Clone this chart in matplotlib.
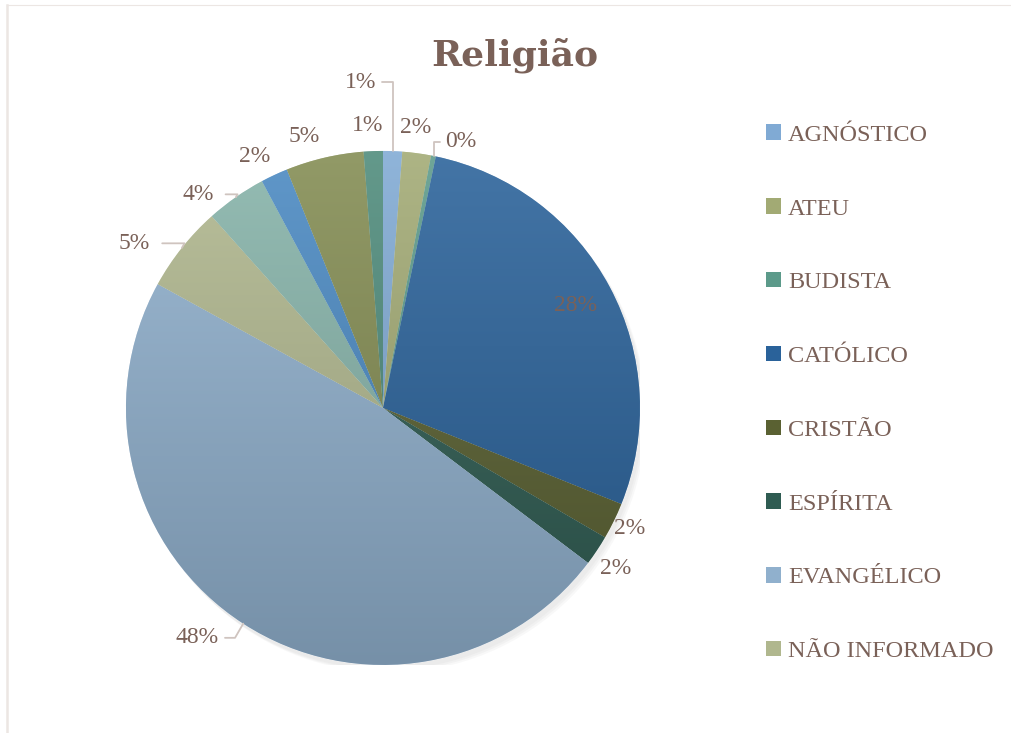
import numpy as np
import matplotlib.pyplot as plt
from matplotlib.patches import Patch, Circle
from matplotlib.lines import Line2D
from matplotlib.colors import to_rgb, LinearSegmentedColormap

# dados (percentuais, sentido horário a partir do topo)
categorias = ['AGNÓSTICO', 'ATEU', 'BUDISTA', 'CATÓLICO', 'CRISTÃO', 'ESPÍRITA',
              'EVANGÉLICO', 'NÃO INFORMADO', 'OUTRO 1', 'OUTRO 2', 'OUTRO 3', 'OUTRO 4']
valores = [1.2, 1.8, 0.3, 27.8, 2.3, 1.9, 47.7, 5.4, 3.8, 1.7, 4.9, 1.2]
rotulos = ['1%', '2%', '0%', '28%', '2%', '2%', '48%', '5%', '4%', '2%', '5%', '1%']
n_legenda = 8  # a legenda do original só mostra as 8 primeiras

cores = ['#80aad4', '#a2aa74', '#5c9a8a', '#2a629a', '#5a6132', '#2f5c52',
         '#90b0cd', '#b0b78e', '#86b3a9', '#4a89c2', '#838c52', '#4e8b7b']

# posição dos rótulos: raio e ajuste de ângulo (graus)
rot_raio = [1.27, 1.10, 1.08, 0.85, 1.07, 1.10, 1.15, 1.16, 1.10, 1.10, 1.10, 1.10]
rot_dang = [6, 1, -5, 0, 0, -1, -6, 5, 6, 2, 3, 1]
com_linha = [True, False, True, False, False, False, True, True, True, False, False, False]

marrom = '#7a6158'
linha_cor = '#cfc4bf'

fig = plt.figure(figsize=(10.11, 7.33), dpi=100)
ax = fig.add_axes([0.1246, 0.0928, 0.5084, 0.7013])
ax.axis('off')

# sombra leve
for k in range(3):
    ax.add_patch(Circle((0.012 + 0.006 * k, -0.018 - 0.006 * k), 1.0,
                        color='#808080', alpha=0.05, zorder=0, lw=0))

wedges, _ = ax.pie(valores, colors=cores, startangle=90, counterclock=False,
                   radius=1.0, wedgeprops=dict(edgecolor='white', linewidth=0.3))

# gradiente vertical em cada fatia
grad = np.linspace(0, 1, 256).reshape(-1, 1)
for w, c in zip(wedges, cores):
    rgb = np.array(to_rgb(c))
    claro = rgb + (1 - rgb) * 0.12
    escuro = rgb * 0.82
    cmap = LinearSegmentedColormap.from_list('g', [escuro, claro])
    im = ax.imshow(grad, cmap=cmap, extent=[-1, 1, -1, 1], origin='lower',
                   aspect='auto', zorder=w.get_zorder() + 0.1)
    im.set_clip_path(w)

# rótulos de percentual
for w, txt, r, da, ln in zip(wedges, rotulos, rot_raio, rot_dang, com_linha):
    meio = np.deg2rad((w.theta1 + w.theta2) / 2)
    ang = meio + np.deg2rad(da)
    x, y = r * np.cos(ang), r * np.sin(ang)
    ax.text(x, y, txt, ha='center', va='center', fontsize=17,
            family='Liberation Serif', color=marrom, zorder=5)
    if ln:
        xe, ye = np.cos(meio), np.sin(meio)
        if y > 1.0:
            ax.annotate('', xy=(xe, ye), xytext=(x, y),
                        arrowprops=dict(arrowstyle='-', color=linha_cor, lw=1.3,
                                        shrinkA=15, shrinkB=0,
                                        connectionstyle='angle,angleA=0,angleB=90,rad=0'))
        else:
            ax.annotate('', xy=(xe, ye), xytext=(x, y),
                        arrowprops=dict(arrowstyle='-', color=linha_cor, lw=1.3,
                                        shrinkA=20, shrinkB=0,
                                        connectionstyle='angle,angleA=0,angleB=60,rad=0'))

ax.set_xlim(-1, 1)
ax.set_ylim(-1, 1)
ax.set_aspect('equal')

fig.text(0.509, 0.924, 'Religião', ha='center', va='center', fontsize=26,
         fontweight='bold', family='DejaVu Serif', color=marrom)

handles = [Patch(facecolor=cores[i], edgecolor='none') for i in range(n_legenda)]
fig.legend(handles, categorias[:n_legenda], loc='upper left',
           bbox_to_anchor=(0.736, 0.86), frameon=False,
           prop={'family': 'Liberation Serif', 'size': 17.5},
           labelcolor=marrom, labelspacing=2.16, handlelength=0.6,
           handleheight=0.6, handletextpad=0.3)

# moldura clara
fig.add_artist(Line2D([0.0065, 0.0065], [0, 0.993], transform=fig.transFigure,
                      color='#ece6e3', lw=1.8))
fig.add_artist(Line2D([0.0065, 1], [0.993, 0.993], transform=fig.transFigure,
                      color='#ece6e3', lw=0.8))

fig.savefig('out.png', dpi=100, facecolor='white')
